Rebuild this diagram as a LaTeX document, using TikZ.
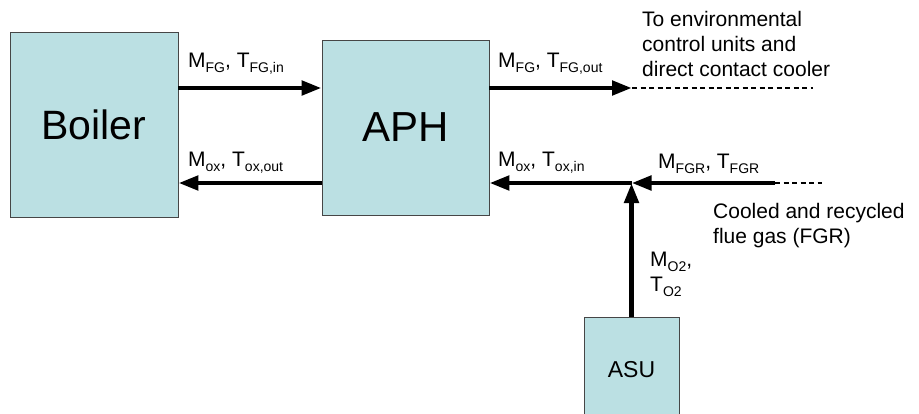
\documentclass[tikz,border=0pt]{standalone}
\usepackage{fontspec}
\setmainfont{Liberation Sans}
\usetikzlibrary{arrows.meta}
\definecolor{boxfill}{RGB}{187,224,227}
\definecolor{boxline}{RGB}{70,70,70}
\newcommand\sbx[1]{\raisebox{-0.28em}{\fontsize{14pt}{14pt}\selectfont #1}}
\begin{document}
\begin{tikzpicture}[x=1pt,y=-1pt,
  blk/.style={draw=boxline,fill=boxfill,line width=0.8pt,inner sep=0pt,rectangle},
  flow/.style={line width=4.8pt,-{Triangle[length=20pt,width=14pt]}},
  dashline/.style={line width=1.2pt,dash pattern=on 5pt off 3.5pt},
  lbl/.style={anchor=base west,inner sep=0pt,font=\fontsize{21pt}{25pt}\selectfont},
  note/.style={anchor=base west,inner sep=0pt,align=left,font=\fontsize{21pt}{25pt}\selectfont},
]
\useasboundingbox (0,0) rectangle (919,413);
\node[blk,minimum width=168pt,minimum height=185pt,font=\fontsize{41pt}{44pt}\selectfont] (boiler) at (94,124.5) {Boiler};
\node[blk,minimum width=167pt,minimum height=175pt,font=\fontsize{42pt}{44pt}\selectfont] (aph) at (405.5,127.5) {APH};
\node[blk,minimum width=95pt,minimum height=106pt,font=\fontsize{23pt}{25pt}\selectfont] (asu) at (631.5,370) {ASU};

\coordinate (j) at (631.5,183);
\coordinate (fgout) at (632,88);
\coordinate (fgoutend) at (813,88);
\coordinate (fgrstart) at (775,183);
\coordinate (fgrend) at (822,183);

\draw[flow] (boiler.east |- 0,88) -- (aph.west |- 0,88);
\draw[flow] (aph.west |- 0,183) -- (boiler.east |- 0,183);
\draw[flow] (aph.east |- 0,88) -- (fgout);
\draw[dashline] (fgout) -- (fgoutend);
\draw[flow] (j) -- (aph.east |- 0,183);
\draw[flow] (fgrstart) -- (j);
\draw[dashline] (fgrstart) -- (fgrend);
\draw[flow] (asu.north) -- (j);

\node[lbl] (l1) at (188,67) {M\sbx{FG}, T\sbx{FG,in}};
\node[lbl] (l2) at (188,166) {M\sbx{ox}, T\sbx{ox,out}};
\node[lbl] (l3) at (498,67) {M\sbx{FG}, T\sbx{FG,out}};
\node[lbl] (l4) at (498,166) {M\sbx{ox}, T\sbx{ox,in}};
\node[lbl] (l5) at (658,168) {M\sbx{FGR}, T\sbx{FGR}};
\node[lbl,align=left] (l6) at (650,291) {M\sbx{O2},\\T\sbx{O2}};

\node[note] (n1) at (642,76) {To environmental\\control units and\\direct contact cooler};
\node[note] (n2) at (713,243) {Cooled and recycled\\flue gas (FGR)};
\end{tikzpicture}
\end{document}
